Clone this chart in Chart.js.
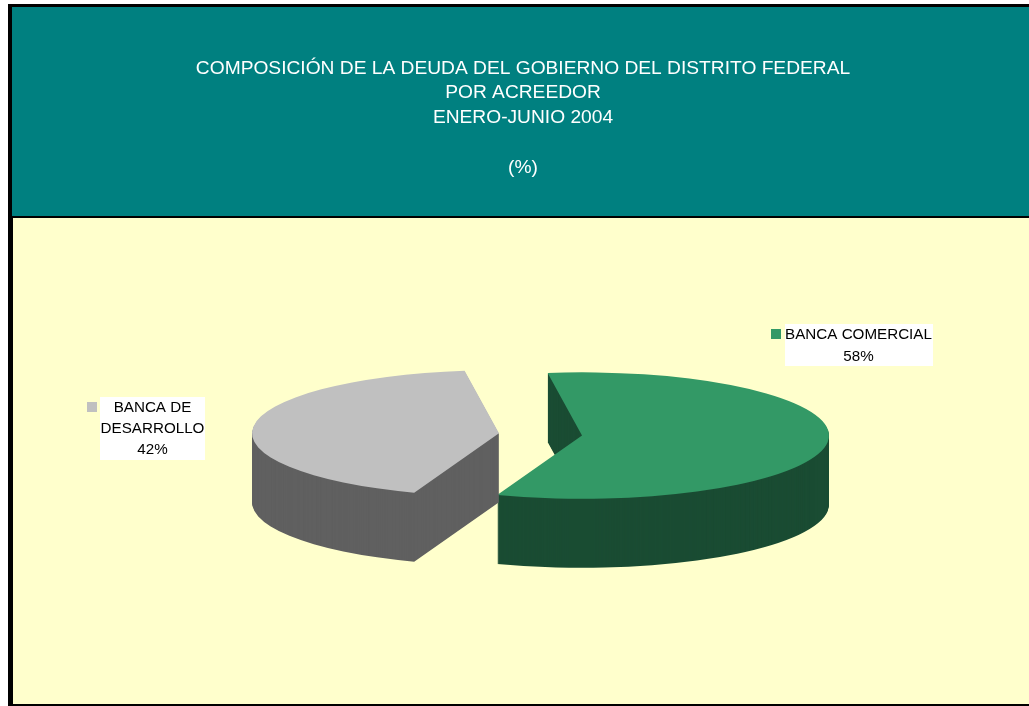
<!DOCTYPE html>
<html>
<head>
<meta charset="utf-8">
<style>
html,body{margin:0;padding:0;background:#fff;overflow:hidden}
#wrap{position:absolute;left:0;top:0;width:1029px;height:706px}
</style>
<script src="https://cdn.jsdelivr.net/npm/chart.js@4/dist/chart.umd.min.js"></script>
</head>
<body>
<div id="wrap"><canvas id="c" width="1029" height="706"></canvas></div>
<script>
const categories = ['BANCA COMERCIAL', 'BANCA DE DESARROLLO'];
const shares = [57.8, 42.2];
const titleLines = [
  'COMPOSICIÓN DE LA DEUDA DEL GOBIERNO DEL DISTRITO FEDERAL',
  'POR ACREEDOR',
  'ENERO-JUNIO 2004',
  '',
  '(%)'
];
const topColors = ['#339966', '#C0C0C0'];
const wallColors = ['#1A4C33', '#606060'];
const labelLines = [['BANCA COMERCIAL'], ['BANCA DE', 'DESARROLLO']];

const TILT = 0.256, DEPTH = 69, EXPLODE = 41.75, SHIFT_X = 17.5;
const FONT = '15.2px "Liberation Sans", Arial, sans-serif';

const frame = {
  id: 'frame',
  beforeDraw(chart) {
    const c = chart.ctx;
    c.save();
    c.fillStyle = '#fff'; c.fillRect(0, 0, 1029, 706);
    c.fillStyle = '#000'; c.fillRect(8, 4, 1021, 702);
    c.fillStyle = '#008080'; c.fillRect(12, 7, 1017, 209);
    c.fillStyle = '#FFFFCC'; c.fillRect(13, 218, 1016, 486);
    c.restore();
  }
};

const pie3d = {
  id: 'pie3d',
  beforeDatasetDraw(chart, args) {
    const c = chart.ctx;
    const arcs = args.meta.data;
    const paint = (arc, color, dy) => {
      const mid = (arc.startAngle + arc.endAngle) / 2;
      const saved = arc.options;
      arc.options = Object.assign({}, saved, {backgroundColor: color, borderColor: color, borderWidth: 0});
      c.save();
      c.translate(SHIFT_X, arc.y + dy);
      c.scale(1, TILT);
      c.translate(0, -arc.y);
      c.translate(Math.cos(mid) * EXPLODE, Math.sin(mid) * EXPLODE);
      arc.draw(c);
      c.restore();
      arc.options = saved;
    };
    arcs.forEach((arc, i) => {
      for (let d = DEPTH; d >= 1; d--) paint(arc, wallColors[i], d);
      paint(arc, topColors[i], 0);
    });
    return false;
  },
  afterDraw(chart) {
    const c = chart.ctx;
    c.save();
    c.font = FONT;
    c.textAlign = 'center';
    c.textBaseline = 'alphabetic';
    const box = (x, y, w, h) => { c.fillStyle = '#fff'; c.fillRect(x, y, w, h); };
    const text = (s, x, y) => { c.fillStyle = '#000'; c.fillText(s, x, y); };
    // BANCA COMERCIAL
    box(785, 324, 148, 42);
    c.fillStyle = topColors[0]; c.fillRect(771, 329, 10, 10);
    text(labelLines[0][0], 858.5, 339);
    text(Math.round(shares[0]) + '%', 858.5, 361);
    // BANCA DE DESARROLLO
    box(100, 397, 105, 63);
    c.fillStyle = topColors[1]; c.fillRect(87, 402, 10, 10);
    text(labelLines[1][0], 152.5, 412);
    text(labelLines[1][1], 152.5, 433);
    text(Math.round(shares[1]) + '%', 152.5, 454);
    c.restore();
  }
};

new Chart(document.getElementById('c'), {
  type: 'pie',
  data: {
    labels: categories,
    datasets: [{
      data: shares,
      backgroundColor: topColors,
      borderWidth: 0,
      radius: 247,
      clip: false
    }]
  },
  options: {
    responsive: false,
    animation: false,
    rotation: -8,
    events: [],
    layout: {padding: {left: 17, right: 0, top: 0, bottom: 17}},
    plugins: {
      legend: {display: false},
      tooltip: {enabled: false},
      title: {
        display: true,
        text: titleLines,
        color: '#fff',
        font: {family: '"Liberation Sans", Arial, sans-serif', size: 19.2, weight: 'normal', lineHeight: 1.29},
        padding: {top: 56, bottom: 0}
      }
    }
  },
  plugins: [frame, pie3d]
});
</script>
</body>
</html>
